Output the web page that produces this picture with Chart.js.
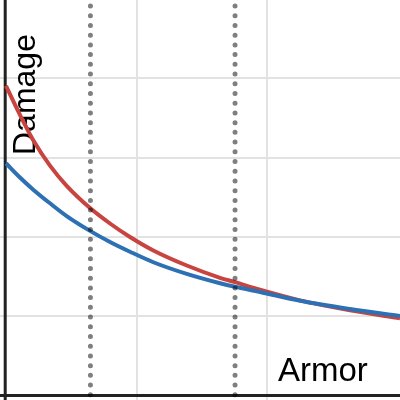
<!DOCTYPE html>
<html>
<head>
<meta charset="utf-8">
<script src="https://cdn.jsdelivr.net/npm/chart.js@4/dist/chart.umd.min.js"></script>
<style>
html,body{margin:0;padding:0;background:#fff;}
#wrap{width:400px;height:400px;}
</style>
</head>
<body>
<div id="wrap"><canvas id="c" width="400" height="400"></canvas></div>
<script>
// Data
const armorX = [0, 0.107, 0.209, 0.337, 0.465, 0.644, 0.797, 0.950, 1.129, 1.385, 1.640, 1.755, 1.946, 2.253, 2.636, 3.019];
const redDamage = [3.905, 3.54, 3.22, 2.90, 2.645, 2.365, 2.17, 2.00, 1.83, 1.64, 1.485, 1.43, 1.335, 1.20, 1.075, 0.974];
const blueDamage = [2.930, 2.75, 2.597, 2.425, 2.264, 2.077, 1.937, 1.814, 1.681, 1.534, 1.416, 1.371, 1.306, 1.195, 1.091, 1.003];
const markerX = [0.647, 1.755];
const xGridTicks = [0, 1, 2];
const yGridTicks = [0, 1, 2, 3, 4];
const xLabel = "Armor";
const yLabel = "Damage";

const X_MIN = -0.046, X_MAX = 3.019, Y_MIN = -0.057, Y_MAX = 4.99;

const toPts = (xs, ys) => xs.map((x, i) => ({x: x, y: ys[i]}));

const datasets = [];
markerX.forEach(mx => {
  datasets.push({
    data: [{x: mx, y: Y_MAX}, {x: mx, y: Y_MIN}],
    borderColor: 'rgba(0,0,0,0.5)',
    borderWidth: 5,
    borderDash: [0, 9.72],
    borderDashOffset: 3.72,
    borderCapStyle: 'round',
    pointRadius: 0,
    fill: false
  });
});
datasets.push({
  data: toPts(armorX, blueDamage),
  borderColor: '#2d70b3',
  borderWidth: 4,
  pointRadius: 0,
  cubicInterpolationMode: 'monotone',
  fill: false
});
datasets.push({
  data: toPts(armorX, redDamage),
  borderColor: '#c74440',
  borderWidth: 4,
  pointRadius: 0,
  cubicInterpolationMode: 'monotone',
  fill: false
});

const axesAndLabels = {
  id: 'axesAndLabels',
  beforeDatasetsDraw(chart) {
    const ctx = chart.ctx;
    const xs = chart.scales.x, ys = chart.scales.y;
    const x0 = xs.getPixelForValue(0) - 0.8;
    const y0 = ys.getPixelForValue(0);
    ctx.save();
    ctx.strokeStyle = '#222';
    ctx.lineWidth = 3;
    ctx.beginPath();
    ctx.moveTo(x0, 0); ctx.lineTo(x0, 400);
    ctx.moveTo(0, y0); ctx.lineTo(400, y0);
    ctx.stroke();
    ctx.fillStyle = '#000';
    ctx.textBaseline = 'alphabetic';
    ctx.textAlign = 'left';
    ctx.font = '33px "Liberation Sans", Arial, sans-serif';
    ctx.fillText(xLabel, 278, 381);
    ctx.translate(35, 155);
    ctx.rotate(-Math.PI / 2);
    ctx.font = '32px "Liberation Sans", Arial, sans-serif';
    ctx.fillText(yLabel, 0, 0);
    ctx.restore();
  }
};

new Chart(document.getElementById('c'), {
  type: 'line',
  data: {datasets: datasets},
  options: {
    responsive: false,
    animation: false,
    layout: {padding: 0},
    plugins: {legend: {display: false}, tooltip: {enabled: false}},
    scales: {
      x: {
        type: 'linear', min: X_MIN, max: X_MAX,
        afterBuildTicks: s => { s.ticks = xGridTicks.map(v => ({value: v})); },
        ticks: {display: false},
        border: {display: false},
        grid: {drawTicks: false, lineWidth: 2,
          color: c => (c.tick && c.tick.value === 0) ? 'rgba(0,0,0,0)' : '#e2e2e2'}
      },
      y: {
        type: 'linear', min: Y_MIN, max: Y_MAX,
        afterBuildTicks: s => { s.ticks = yGridTicks.map(v => ({value: v})); },
        ticks: {display: false},
        border: {display: false},
        grid: {drawTicks: false, lineWidth: 2,
          color: c => (c.tick && c.tick.value === 0) ? 'rgba(0,0,0,0)' : '#e2e2e2'}
      }
    }
  },
  plugins: [axesAndLabels]
});
</script>
</body>
</html>
